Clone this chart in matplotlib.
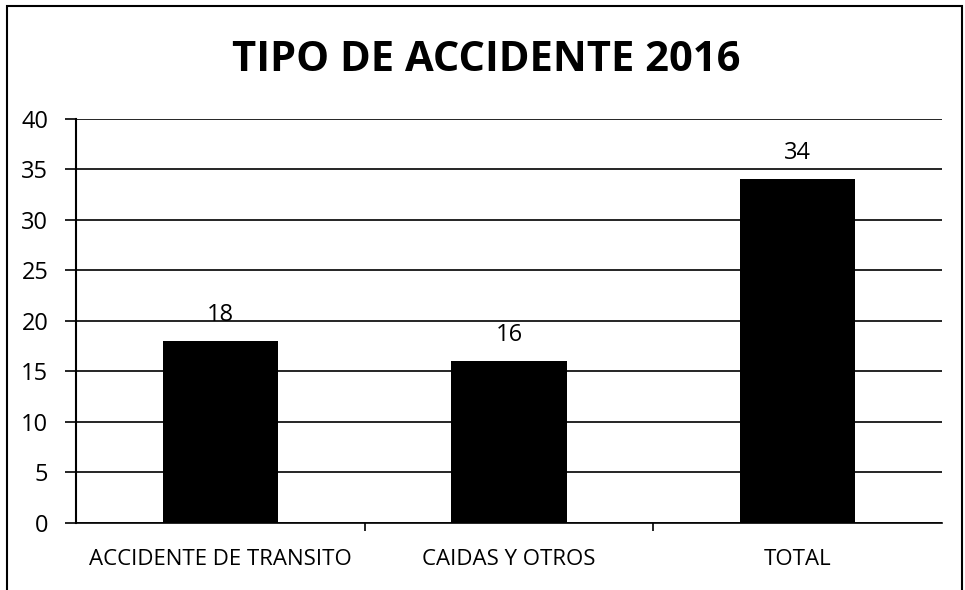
import numpy as np
import matplotlib.pyplot as plt
from matplotlib.patches import Rectangle

# datos
categorias = ["ACCIDENTE DE TRANSITO", "CAIDAS Y OTROS", "TOTAL"]
valores = [18, 16, 34]
titulo = "TIPO DE ACCIDENTE 2016"

plt.rcParams['font.family'] = ['Open Sans', 'DejaVu Sans']

fig = plt.figure(figsize=(9.65, 5.9), dpi=100)
ax = fig.add_axes([0.0788, 0.1136, 0.8972, 0.6855])

x = np.arange(len(categorias))
ax.bar(x, valores, width=0.4, color="black", zorder=3)
for xi, v in zip(x, valores):
    ax.text(xi, v + 1.4, str(v), ha="center", va="bottom", fontsize=17)

ax.set_xlim(-0.5, len(categorias) - 0.5)
ax.set_ylim(0, 40)
ax.set_yticks(np.arange(0, 41, 5))
ax.yaxis.grid(True, color="black", linewidth=1.2, zorder=0)
ax.tick_params(axis="y", length=8, width=1.2, labelsize=17, pad=12)

ax.set_xticks(x)
ax.set_xticklabels(categorias)
ax.tick_params(axis="x", length=0, labelsize=16, pad=19)
ax.set_xticks(np.arange(0.5, len(categorias) - 0.5), minor=True)
ax.tick_params(axis="x", which="minor", length=6, width=1.2)

for s in ["top", "right"]:
    ax.spines[s].set_visible(False)
ax.spines["left"].set_linewidth(1.5)
ax.spines["bottom"].set_linewidth(1.2)

fig.text(0.504, 0.898, titulo, ha="center", va="center", fontsize=30, fontweight="bold")

fig.patches.append(Rectangle((0.007, -0.01), 0.99, 1.0, transform=fig.transFigure,
                             fill=False, edgecolor="black", linewidth=1.5))

fig.savefig("out.png", dpi=100)
